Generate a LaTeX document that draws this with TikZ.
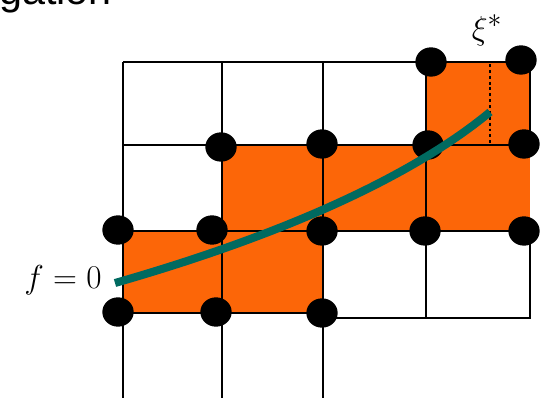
\documentclass[tikz,border=0pt]{standalone}
\usepackage{fontspec}
\usetikzlibrary{shapes.geometric}
\newfontfamily\titlefont{Liberation Sans}
\definecolor{cellorange}{RGB}{252,102,8}
\definecolor{curveteal}{RGB}{0,106,96}
\begin{document}
\begin{tikzpicture}[x=0.75pt,y=-0.75pt,
  gridline/.style={black,line width=2.2pt},
  dot/.style={ellipse,fill=black,inner sep=0pt,minimum width=23.5pt,minimum height=22pt},
  cell/.style={fill=cellorange}]
\useasboundingbox (0,0) rectangle (541,398);
\clip (0,0) rectangle (541,398);
% title fragment
\node[anchor=base west,inner sep=0pt,font=\titlefont\fontsize{31pt}{31pt}\selectfont] (title) at (-1,5) {gation};
% orange cells
\fill[cell] (426,62) rectangle (530,145);
\fill[cell] (222,145) rectangle (530,232);
\fill[cell] (123,231) rectangle (323,313);
% grid lines
\draw[gridline] (123,62) -- (530,62);
\draw[gridline] (123,145) -- (530,145);
\draw[gridline] (123,231) -- (530,231);
\draw[gridline] (123,313) -- (323,313);
\draw[gridline] (323,318) -- (530,318) -- (530,231);
\draw[gridline] (426,231) -- (426,318);
\draw[gridline] (530,62) -- (530,145);
\draw[gridline] (123,62) -- (123,398);
\draw[gridline] (222,62) -- (222,398);
\draw[gridline] (323,62) -- (323,398);
\draw[gridline] (426,62) -- (426,231);
% dotted line
\draw[black,line width=2.2pt,dash pattern=on 2.2pt off 2.2pt] (490,64) -- (490,143);
% dots
\node[dot] (d1) at (431,62) {};
\node[dot] (d2) at (521,60) {};
\node[dot] (d3) at (221,147) {};
\node[dot] (d4) at (322,144) {};
\node[dot] (d5) at (428,145) {};
\node[dot] (d6) at (524,144) {};
\node[dot] (d7) at (118,230) {};
\node[dot] (d8) at (212,230) {};
\node[dot] (d9) at (322,231) {};
\node[dot] (d10) at (425,231) {};
\node[dot] (d11) at (524,231) {};
\node[dot] (d12) at (118,312) {};
\node[dot] (d13) at (216,312) {};
\node[dot] (d14) at (322,313) {};
% curve
\coordinate (c0) at (115,283);
\coordinate (c1) at (490,112);
\draw[curveteal,line width=6pt] (c0) .. controls (300,230) and (420,170) .. (c1);
% labels
\node[inner sep=0pt,font=\fontsize{30pt}{30pt}\selectfont] (flab) at (63,280) {$f=0$};
\node[inner sep=0pt,font=\fontsize{28pt}{28pt}\selectfont] (xlab) at (487,30) {$\xi^{*}$};
\end{tikzpicture}
\end{document}
